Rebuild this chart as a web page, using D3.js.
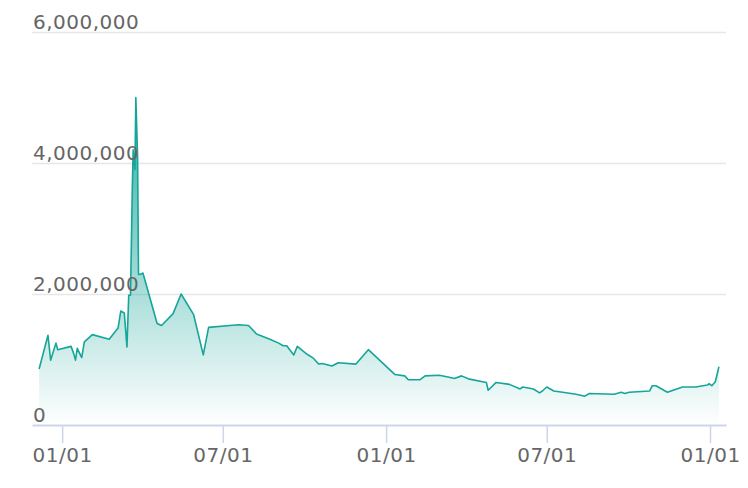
<!DOCTYPE html>
<html>
<head>
<meta charset="utf-8">
<script src="https://cdn.jsdelivr.net/npm/d3@7"></script>
<style>
  html, body { margin: 0; padding: 0; background: #fff; }
  text { font-family: "DejaVu Sans", Verdana, sans-serif; fill: #666; }
</style>
</head>
<body>
<div id="main"></div>
<script>
// series
const dates = [
  "2020-12-06","2020-12-16","2020-12-19","2020-12-25","2020-12-27",
  "2021-01-11","2021-01-14","2021-01-16","2021-01-18","2021-01-23","2021-01-26",
  "2021-02-04","2021-02-23","2021-03-05","2021-03-08","2021-03-12","2021-03-15",
  "2021-03-17","2021-03-19","2021-03-21","2021-03-22","2021-03-24","2021-03-25",
  "2021-03-27","2021-03-28","2021-03-30","2021-04-02","2021-04-18","2021-04-23",
  "2021-05-06","2021-05-15","2021-05-29","2021-06-09","2021-06-15","2021-07-09",
  "2021-07-19","2021-07-30","2021-08-08","2021-08-23","2021-09-02","2021-09-07",
  "2021-09-11","2021-09-19","2021-09-23","2021-10-04","2021-10-11","2021-10-17",
  "2021-10-21","2021-11-01","2021-11-08","2021-11-28","2021-12-12","2022-01-11",
  "2022-01-22","2022-01-26","2022-02-08","2022-02-14","2022-03-02","2022-03-13",
  "2022-03-19","2022-03-27","2022-04-05","2022-04-24","2022-04-26","2022-05-05",
  "2022-05-20","2022-06-01","2022-06-04","2022-06-16","2022-06-23","2022-06-27",
  "2022-07-01","2022-07-09","2022-07-19","2022-08-03","2022-08-13","2022-08-18",
  "2022-09-15","2022-09-23","2022-09-27","2022-10-02","2022-10-25","2022-10-28",
  "2022-11-01","2022-11-14","2022-12-01","2022-12-16","2022-12-29","2022-12-31",
  "2023-01-03","2023-01-07","2023-01-11"
]
const values = [
  855000,1370000,990000,1250000,1150000,
  1200000,1090000,990000,1170000,1030000,1270000,
  1380000,1310000,1480000,1740000,1710000,1190000,
  1980000,1980000,3600000,4200000,3900000,5000000,
  4100000,2300000,2300000,2320000,1550000,1520000,
  1700000,2000000,1690000,1070000,1490000,1520000,
  1530000,1520000,1390000,1310000,1250000,1210000,
  1210000,1070000,1200000,1080000,1020000,930000,
  940000,900000,950000,930000,1150000,770000,
  750000,690000,690000,750000,760000,730000,
  710000,750000,700000,650000,530000,650000,
  620000,550000,580000,550000,490000,530000,
  580000,520000,500000,470000,440000,480000,
  470000,500000,480000,500000,520000,600000,
  600000,500000,580000,580000,610000,630000,
  600000,660000,890000
]
const yTicks = [0, 2000000, 4000000, 6000000]
const xTicks = ["2021-01-01","2021-07-01","2022-01-01","2022-07-01","2023-01-01"]
const xDomain = ["2020-11-28","2023-01-19"]

const parse = d3.timeParse("%Y-%m-%d")
const W = 748, H = 488
const pad = { left: 32, right: 726, top: 32, bottom: 425 }
const lineColor = "#16a599"

const svg = d3.select("#main").append("svg").attr("width", W).attr("height", H)

const x = d3.scaleTime().domain(xDomain.map(parse)).range([pad.left, pad.right])
const y = d3.scaleLinear().domain([0, 6000000]).range([pad.bottom, pad.top])

const pts = dates.map((d, i) => ({ date: parse(d), v: values[i] }))

// gradient fill under the line
const defs = svg.append("defs")
const grad = defs.append("linearGradient").attr("id", "fillGrad")
  .attr("gradientUnits", "userSpaceOnUse")
  .attr("x1", 0).attr("x2", 0)
  .attr("y1", y(d3.max(values))).attr("y2", pad.bottom)
grad.append("stop").attr("offset", 0).attr("stop-color", lineColor).attr("stop-opacity", 0.9)
grad.append("stop").attr("offset", 1).attr("stop-color", lineColor).attr("stop-opacity", 0)

// grid lines
svg.append("g").selectAll("line").data(yTicks.filter(d => d > 0)).enter().append("line")
  .attr("x1", pad.left).attr("x2", pad.right)
  .attr("y1", d => y(d) + 0.5).attr("y2", d => y(d) + 0.5)
  .attr("stroke", "#e6e6e6").attr("stroke-width", 1.5)

const area = d3.area().x(d => x(d.date)).y0(y(0)).y1(d => y(d.v))
const line = d3.line().x(d => x(d.date)).y(d => y(d.v))

svg.append("path").datum(pts).attr("d", area).attr("fill", "url(#fillGrad)")
svg.append("path").datum(pts).attr("d", line)
  .attr("fill", "none").attr("stroke", lineColor).attr("stroke-width", 1.6)
  .attr("stroke-linejoin", "round")

// y labels sit above their grid line
const fmt = d3.format(",")
svg.append("g").selectAll("text").data(yTicks).enter().append("text")
  .attr("x", pad.left + 1).attr("y", d => y(d) - 3)
  .attr("font-size", 20).attr("letter-spacing", 0.5)
  .text(d => fmt(d))

// x axis
const xAxis = d3.axisBottom(x)
  .tickValues(xTicks.map(parse))
  .tickFormat(d3.timeFormat("%m/%d"))
  .tickSize(18).tickPadding(5).tickSizeOuter(0)
const gx = svg.append("g").attr("transform", `translate(0,${pad.bottom})`).call(xAxis)
gx.select(".domain").attr("stroke", "#ccd6eb").attr("stroke-width", 2)
gx.selectAll(".tick line").attr("stroke", "#ccd6eb").attr("stroke-width", 1.5)
gx.selectAll(".tick text").attr("fill", "#666").attr("font-size", 20).attr("letter-spacing", 0.5)
  .attr("font-family", "DejaVu Sans, Verdana, sans-serif")
</script>
</body>
</html>
